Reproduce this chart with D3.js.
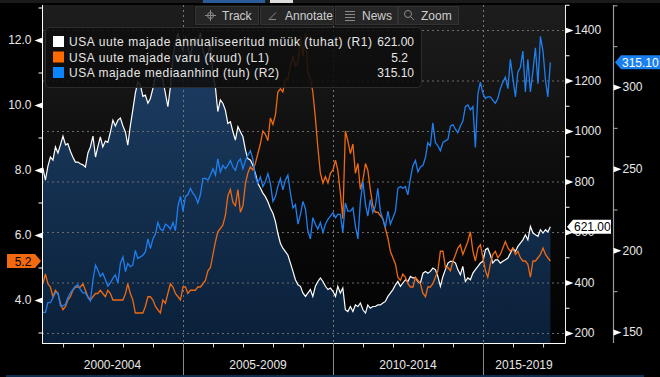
<!DOCTYPE html>
<html>
<head>
<meta charset="utf-8">
<script src="https://cdn.jsdelivr.net/npm/d3@7"></script>
<style>
  body { margin: 0; background: #000; }
  svg { display: block; font-family: "Liberation Sans", Arial, sans-serif; }
</style>
</head>
<body>
<svg id="chart" width="660" height="377"></svg>
<script>
// monthly series, month-end, first point April 2000, last March 2017
var firstYear = 2000, firstMonth = 4;

// USA uute majade annualiseeritud muuk (tuhat) - R1
var sales = [854,805,860,897,885,937,913,945,980,945,950,920,
  897,877,877,870,866,857,913,937,980,897,937,977,
  937,960,955,995,1043,1020,1043,1051,1020,995,944,1020,
  1083,1150,1194,1183,1137,1142,1110,1129,1169,1215,1241,1228,
  1202,1149,1096,1175,1294,1348,1388,1348,1320,1373,1334,1294,
  1348,1367,1340,1389,1320,1288,1307,1348,1228,1169,1077,1123,
  1110,1083,1030,1037,997,964,1017,997,977,924,891,885,
  865,833,793,774,754,740,720,694,674,641,595,555,
  536,522,509,477,444,411,391,385,358,345,358,372,
  345,385,404,418,404,385,372,378,365,345,385,358,
  378,292,285,305,285,311,305,319,292,279,311,298,
  305,305,311,311,319,325,345,358,372,391,404,385,
  398,411,404,424,418,418,404,398,437,444,437,444,
  457,451,424,385,424,451,477,484,484,477,451,431,
  464,404,418,411,437,451,464,477,484,530,536,510,
  477,490,490,477,484,490,497,516,536,523,543,556,
  569,589,569,622,596,589,583,609,596,609,600,621];

// USA uute majade varu (kuud) - L1
var supply = [4.5,4.8,4.5,4.4,4.1,4.3,4.2,3.9,3.7,3.8,4.0,4.1,
  4.3,4.4,4.4,4.4,4.5,4.3,4.1,4.0,4.1,4.2,4.2,4.3,
  4.2,4.1,4.3,4.2,4.0,4.0,4.0,4.0,4.0,4.2,4.5,4.2,
  4.0,3.6,3.6,3.6,3.6,3.8,4.1,4.1,4.0,3.8,3.7,3.6,
  4.0,3.9,4.2,4.5,4.4,4.2,4.1,4.0,4.4,4.4,4.2,4.3,
  4.3,4.3,4.4,4.4,4.5,4.6,4.9,5.0,5.4,5.8,6.1,6.2,
  6.3,6.6,7.2,7.4,7.0,6.9,7.4,6.7,6.9,7.6,7.9,8.1,
  8.0,8.2,8.5,8.8,9.2,9.1,8.9,9.6,9.4,9.7,10.4,10.5,
  10.4,10.8,10.8,11.2,11.5,11.2,11.3,12.1,11.5,12.2,11.0,10.8,
  10.4,9.6,8.7,7.9,7.6,7.8,7.6,7.9,8.0,8.3,8.0,7.3,
  6.5,9.2,8.9,8.5,8.8,7.9,8.2,7.4,7.7,8.2,8.0,7.4,
  6.9,6.7,6.7,6.6,6.5,6.2,5.9,5.5,5.3,5.1,4.7,4.6,
  4.8,4.7,4.5,4.4,4.4,4.7,4.6,4.5,4.2,4.1,4.4,4.4,
  4.5,4.7,4.9,5.5,5.5,5.0,5.0,4.9,5.2,5.4,5.6,5.7,
  5.4,5.6,5.8,6.1,5.5,5.2,5.6,5.7,5.3,4.9,4.7,5.1,
  5.4,5.5,5.3,5.4,5.6,5.8,5.6,5.5,5.6,5.4,5.5,5.3,
  5.2,5.2,5.1,4.7,5.2,5.2,5.3,5.4,5.6,5.4,5.3,5.2];

// USA majade mediaanhind (tuh) - R2
var price = [162,162,168,168,171,174,174,166,166,167,171,174,
  176,178,179,176,174,174,171,169,182,191,188,184,
  186,182,178,180,183,185,180,192,196,187,192,190,
  191,200,195,196,197,199,207,201,207,210,217,213,
  212,216,215,213,217,212,227,233,224,233,234,238,
  235,233,229,234,244,244,243,246,250,246,256,248,
  252,250,252,255,251,249,254,256,250,255,258,261,
  256,245,241,245,239,242,247,241,230,233,239,244,
  237,243,246,235,226,228,216,222,230,225,212,207,
  220,216,213,217,211,216,219,221,223,220,222,222,
  211,229,224,224,226,215,207,230,242,228,221,231,
  223,227,238,224,219,214,224,216,220,224,238,239,
  238,239,234,244,252,255,248,251,252,257,266,264,
  278,266,264,261,266,267,268,276,277,274,272,276,
  279,288,289,286,288,263,296,303,296,293,294,294,
  292,290,293,299,303,306,299,317,305,294,309,312,
  322,297,317,297,310,324,302,331,322,304,294,315.1];

var leftTicks = [4, 6, 8, 10, 12];
var leftMinor = [3, 5, 7, 9, 11, 13];
var r1Ticks = [200, 400, 600, 800, 1000, 1200, 1400];
var r1Minor = [300, 500, 700, 900, 1100, 1300, 1500];
var r2Ticks = [150, 200, 250, 300];
var r2Minor = [175, 225, 275, 325, 350];
var periodStarts = [2000, 2005, 2010, 2015];
var periodLabels = ["2000-2004", "2005-2009", "2010-2014", "2015-2019"];

var legendNames = ["USA uute majade annualiseeritud müük (tuhat) (R1)",
                   "USA uute majade varu (kuud) (L1)",
                   "USA majade mediaanhind (tuh) (R2)"];
var legendValues = ["621.00", "5.2", "315.10"];
var colors = ["#ffffff", "#ee6a12", "#1f7ff0"];
var swatches = ["#ffffff", "#ff6a00", "#0a84ff"];
var toolButtons = ["Track", "Annotate", "News", "Zoom"];

var L = 42, R = 565, T = 5, B = 343, R2X = 613;

var svg = d3.select("#chart");
var defs = svg.append("defs");

var bgGrad = defs.append("linearGradient").attr("id", "bgGrad")
  .attr("x1", 0).attr("y1", 0).attr("x2", 0).attr("y2", 1);
bgGrad.append("stop").attr("offset", "0%").attr("stop-color", "#1d1d1d");
bgGrad.append("stop").attr("offset", "55%").attr("stop-color", "#0b0b0b");
bgGrad.append("stop").attr("offset", "100%").attr("stop-color", "#020202");

var areaGrad = defs.append("linearGradient").attr("id", "areaGrad")
  .attr("gradientUnits", "userSpaceOnUse")
  .attr("x1", 0).attr("y1", T).attr("x2", 0).attr("y2", B);
areaGrad.append("stop").attr("offset", "0%").attr("stop-color", "#20426a");
areaGrad.append("stop").attr("offset", "100%").attr("stop-color", "#0a2039");

defs.append("clipPath").attr("id", "plotClip")
  .append("rect").attr("x", L).attr("y", T).attr("width", R - L).attr("height", B - T);

// scales
var x = d3.scaleTime()
  .domain([new Date(2000, 0, 1), new Date(2020, 0, 1)])
  .range([33, 633]);
var yL = d3.scaleLinear().domain([4, 12]).range([300, 40]);
var yR1 = d3.scaleLinear().domain([200, 1400]).range([333, 30]);
var yR2 = d3.scaleLinear().domain([150, 300]).range([332, 87]);

var dates = sales.map(function(d, i) {
  return new Date(firstYear, firstMonth - 1 + i + 1, 0);
});

// background
svg.append("rect").attr("x", L).attr("y", T).attr("width", R - L).attr("height", B - T)
  .attr("fill", "url(#bgGrad)");

var plot = svg.append("g").attr("clip-path", "url(#plotClip)");

// area under sales
var area = d3.area()
  .x(function(d, i) { return x(dates[i]); })
  .y0(B)
  .y1(function(d) { return yR1(d); });
plot.append("path").datum(sales).attr("d", area).attr("fill", "url(#areaGrad)");

// grid
plot.append("g").selectAll("line").data(r1Ticks).enter().append("line")
  .attr("x1", L).attr("x2", R)
  .attr("y1", function(d) { return yR1(d) + 0.5; })
  .attr("y2", function(d) { return yR1(d) + 0.5; })
  .attr("stroke", "#6b6b6b").attr("stroke-width", 1).attr("stroke-dasharray", "2,3");
plot.append("g").selectAll("line").data(periodStarts.slice(1)).enter().append("line")
  .attr("x1", function(d) { return Math.round(x(new Date(d, 0, 1))) + 0.5; })
  .attr("x2", function(d) { return Math.round(x(new Date(d, 0, 1))) + 0.5; })
  .attr("y1", T).attr("y2", B)
  .attr("stroke", "#777").attr("stroke-width", 1).attr("stroke-dasharray", "2,3");

// lines
function lineFor(scale) {
  return d3.line()
    .x(function(d, i) { return x(dates[i]); })
    .y(function(d) { return scale(d); });
}
plot.append("path").datum(sales).attr("d", lineFor(yR1))
  .attr("fill", "none").attr("stroke", colors[0]).attr("stroke-width", 1.2);
plot.append("path").datum(supply).attr("d", lineFor(yL))
  .attr("fill", "none").attr("stroke", colors[1]).attr("stroke-width", 1.3);
plot.append("path").datum(price).attr("d", lineFor(yR2))
  .attr("fill", "none").attr("stroke", colors[2]).attr("stroke-width", 1.3);

// axis lines
svg.append("line").attr("x1", L + 0.5).attr("x2", L + 0.5).attr("y1", T).attr("y2", B + 0.5)
  .attr("stroke", "#fff");
svg.append("line").attr("x1", L).attr("x2", R + 0.5).attr("y1", B + 0.5).attr("y2", B + 0.5)
  .attr("stroke", "#fff");
svg.append("line").attr("x1", R + 0.5).attr("x2", R + 0.5).attr("y1", T).attr("y2", B + 0.5)
  .attr("stroke", "#eee");
svg.append("line").attr("x1", R2X + 0.5).attr("x2", R2X + 0.5).attr("y1", T).attr("y2", B)
  .attr("stroke", "#9a9a9a").attr("stroke-width", 1.2);

// axes
function styleAxis(g, col) {
  g.select(".domain").remove();
  g.selectAll("text").attr("fill", col).style("font-size", "12px")
    .style("font-family", "'Liberation Sans', Arial, sans-serif");
  g.selectAll("line").attr("stroke", col);
}

var gLeft = svg.append("g").attr("transform", "translate(" + (L + 0.5) + ",0)")
  .call(d3.axisLeft(yL).tickValues(leftTicks).tickFormat(d3.format(".1f"))
    .tickSize(0).tickPadding(11));
styleAxis(gLeft, "#e8e8e8");
gLeft.selectAll(".tick").append("path").attr("d", "M0,-3L-8,0L0,3Z").attr("fill", "#fff");
var gLeftMinor = svg.append("g").attr("transform", "translate(" + (L + 0.5) + ",0)")
  .call(d3.axisLeft(yL).tickValues(leftMinor).tickFormat("").tickSize(4));
styleAxis(gLeftMinor, "#fff");

var gR1 = svg.append("g").attr("transform", "translate(" + (R + 0.5) + ",0)")
  .call(d3.axisRight(yR1).tickValues(r1Ticks).tickFormat(d3.format("d"))
    .tickSize(0).tickPadding(9));
styleAxis(gR1, "#e8e8e8");
gR1.selectAll(".tick").append("path").attr("d", "M0,-3L8,0L0,3Z").attr("fill", "#fff");
var gR1Minor = svg.append("g").attr("transform", "translate(" + (R + 0.5) + ",0)")
  .call(d3.axisRight(yR1).tickValues(r1Minor).tickFormat("").tickSize(4));
styleAxis(gR1Minor, "#fff");

var gR2 = svg.append("g").attr("transform", "translate(" + (R2X + 0.5) + ",0)")
  .call(d3.axisRight(yR2).tickValues(r2Ticks).tickFormat(d3.format("d"))
    .tickSize(0).tickPadding(9));
styleAxis(gR2, "#e8e8e8");
gR2.selectAll(".tick").append("path").attr("d", "M0,-3L8,0L0,3Z").attr("fill", "#fff");
var gR2Minor = svg.append("g").attr("transform", "translate(" + (R2X + 0.5) + ",0)")
  .call(d3.axisRight(yR2).tickValues(r2Minor).tickFormat("").tickSize(4));
styleAxis(gR2Minor, "#aaa");

// x axis: yearly minor ticks, period separators and labels
var yearTicks = d3.range(2001, 2018).filter(function(y) { return periodStarts.indexOf(y) < 0; })
  .map(function(y) { return new Date(y, 0, 1); });
var gX = svg.append("g").attr("transform", "translate(0," + (B + 0.5) + ")")
  .call(d3.axisBottom(x).tickValues(yearTicks).tickFormat("").tickSize(4));
styleAxis(gX, "#ddd");

svg.append("g").selectAll("line").data(periodStarts.slice(1)).enter().append("line")
  .attr("x1", function(d) { return Math.round(x(new Date(d, 0, 1))) + 0.5; })
  .attr("x2", function(d) { return Math.round(x(new Date(d, 0, 1))) + 0.5; })
  .attr("y1", B).attr("y2", 377)
  .attr("stroke", "#8a8a8a");

svg.append("g").selectAll("text").data(periodStarts).enter().append("text")
  .attr("x", function(d) {
    var a = Math.max(L, x(new Date(d, 0, 1)));
    var b = Math.min(R, x(new Date(d + 5, 0, 1)));
    return (a + b) / 2;
  })
  .attr("y", 369)
  .attr("text-anchor", "middle")
  .attr("fill", "#e8e8e8").style("font-size", "12px")
  .text(function(d, i) { return periodLabels[i]; });

svg.append("rect").attr("x", 6).attr("y", 375).attr("width", 638).attr("height", 2)
  .attr("fill", "#0d2c4e");

// legend
var lg = svg.append("g");
lg.append("rect").attr("x", 45.5).attr("y", 27.5).attr("width", 376).attr("height", 60)
  .attr("rx", 4).attr("fill", "rgba(14,14,14,0.88)").attr("stroke", "#2c2c2c");
var rows = lg.selectAll("g.row").data(legendNames).enter().append("g")
  .attr("transform", function(d, i) { return "translate(0," + (36 + i * 15.5) + ")"; });
rows.append("rect").attr("x", 53).attr("y", 0).attr("width", 11).attr("height", 11)
  .attr("fill", function(d, i) { return swatches[i]; });
rows.append("text").attr("x", 69).attr("y", 10)
  .attr("fill", "#e6e6e6").style("font-size", "12px")
  .attr("textLength", function(d, i) { return [303, 200, 210][i]; })
  .attr("lengthAdjust", "spacing")
  .text(function(d) { return d; });
rows.append("text").attr("x", function(d, i) { return i === 1 ? 408 : 414; }).attr("y", 10)
  .attr("text-anchor", "end")
  .attr("fill", "#e6e6e6").style("font-size", "12px")
  .text(function(d, i) { return legendValues[i]; });

// value tags (drawn over the axis labels, as in the terminal view)
function tag(x0, yv, w, dir, fill, textCol, label) {
  var g = svg.append("g");
  var h = 14, tip = 6;
  var pts;
  if (dir === "left") {
    pts = [[x0, yv], [x0 + tip, yv - h / 2], [x0 + w, yv - h / 2], [x0 + w, yv + h / 2], [x0 + tip, yv + h / 2]];
    g.append("polygon").attr("points", pts.join(" ")).attr("fill", fill);
    g.append("text").attr("x", x0 + tip + 1).attr("y", yv + 4.5).attr("fill", textCol)
      .style("font-size", "12px").text(label);
  } else {
    pts = [[x0, yv - h / 2], [x0 + w - tip, yv - h / 2], [x0 + w, yv], [x0 + w - tip, yv + h / 2], [x0, yv + h / 2]];
    g.append("polygon").attr("points", pts.join(" ")).attr("fill", fill);
    g.append("text").attr("x", x0 + (w - tip) / 2 + 2).attr("y", yv + 4.5).attr("fill", textCol)
      .attr("text-anchor", "middle").style("font-size", "12px").text(label);
  }
}
tag(615, yR2(price[price.length - 1]), 45, "left", "#1a80f0", "#fff", legendValues[2]);
tag(567, yR1(sales[sales.length - 1]), 44, "left", "#fff", "#000", legendValues[0]);
tag(7, yL(supply[supply.length - 1]), 34, "right", "#f26a10", "#000", legendValues[1]);

// toolbar
svg.append("rect").attr("x", 0).attr("y", 0).attr("width", 660).attr("height", 3).attr("fill", "#1a1a1a");
svg.append("rect").attr("x", 203).attr("y", 0).attr("width", 62).attr("height", 3).attr("fill", "#2a5c9a");
svg.append("rect").attr("x", 270).attr("y", 0).attr("width", 23).attr("height", 3).attr("fill", "#ddd");
var btnX = [195, 260, 335, 398], btnW = [63, 73, 62, 60], textX = [222, 285, 362, 421];
var tb = svg.append("g");
tb.append("rect").attr("x", 194).attr("y", 5).attr("width", 265).attr("height", 21).attr("fill", "#141414");
toolButtons.forEach(function(lbl, i) {
  tb.append("rect").attr("x", btnX[i] + 0.5).attr("y", 6.5).attr("width", btnW[i]).attr("height", 18)
    .attr("fill", "#262626").attr("stroke", "#333");
  tb.append("text").attr("x", textX[i]).attr("y", 20).attr("fill", "#cfcfcf")
    .style("font-size", "12px").text(lbl);
});
// icons
var ic = tb.append("g").attr("stroke", "#8a8a8a").attr("fill", "none").attr("stroke-width", 1);
ic.append("circle").attr("cx", 210.5).attr("cy", 15.5).attr("r", 3);
ic.append("path").attr("d", "M210.5,10V21M205,15.5H216");
ic.append("path").attr("d", "M269,19.5L276,12.5M269,19.5H276");
ic.append("path").attr("d", "M345,11.5H355M345,14.5H355M345,17.5H355M345,20.5H355");
ic.append("circle").attr("cx", 408).attr("cy", 14).attr("r", 3.5);
ic.append("path").attr("d", "M410.5,16.5L414,20");
</script>
</body>
</html>
